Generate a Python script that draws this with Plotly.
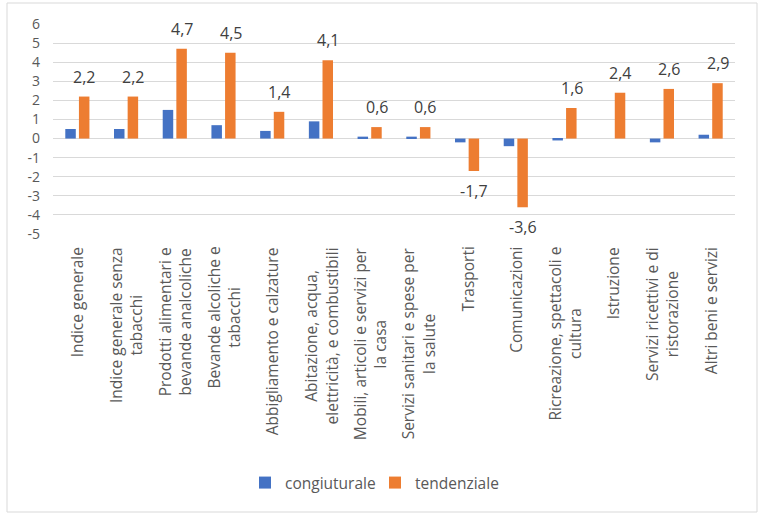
import plotly.graph_objects as go

categories = [
    "Indice generale",
    "Indice generale senza tabacchi",
    "Prodotti alimentari e bevande analcoliche",
    "Bevande alcoliche e tabacchi",
    "Abbigliamento e calzature",
    "Abitazione, acqua, elettricità, e combustibili",
    "Mobili, articoli e servizi per la casa",
    "Servizi sanitari e spese per la salute",
    "Trasporti",
    "Comunicazioni",
    "Ricreazione, spettacoli e cultura",
    "Istruzione",
    "Servizi ricettivi e di ristorazione",
    "Altri beni e servizi",
]
tick_labels = [
    "Indice generale",
    "Indice generale senza<br>tabacchi",
    "Prodotti alimentari e<br>bevande analcoliche",
    "Bevande alcoliche e<br>tabacchi",
    "Abbigliamento e calzature",
    "Abitazione, acqua,<br>elettricità, e combustibili",
    "Mobili, articoli e servizi per<br>la casa",
    "Servizi sanitari e spese per<br>la salute",
    "Trasporti",
    "Comunicazioni",
    "Ricreazione, spettacoli e<br>cultura",
    "Istruzione",
    "Servizi ricettivi e di<br>ristorazione",
    "Altri beni e servizi",
]
congiunturale = [0.5, 0.5, 1.5, 0.7, 0.4, 0.9, 0.1, 0.1, -0.2, -0.4, -0.1, 0.0, -0.2, 0.2]
tendenziale = [2.2, 2.2, 4.7, 4.5, 1.4, 4.1, 0.6, 0.6, -1.7, -3.6, 1.6, 2.4, 2.6, 2.9]
y_ticks = [6, 5, 4, 3, 2, 1, 0, -1, -2, -3, -4, -5]
y_tick_text = [str(v) for v in y_ticks]

FONT = "Open Sans"
BLUE = "#4472C4"
ORANGE = "#ED7D31"
GRID = "#D9D9D9"
TXT = "#595959"

fig = go.Figure()
fig.add_trace(go.Bar(name="congiuturale", x=categories, y=congiunturale,
                     marker=dict(color=BLUE, line=dict(width=0))))
fig.add_trace(go.Bar(name="tendenziale", x=categories, y=tendenziale,
                     marker=dict(color=ORANGE, line=dict(width=0))))

annotations = []
# data labels for tendenziale
for c, v in zip(categories, tendenziale):
    annotations.append(dict(
        x=c, y=v, xref="x", yref="y", showarrow=False,
        text=f"{v:.1f}".replace(".", ","),
        font=dict(family=FONT, size=16, color="#404040"),
        xshift=7, yshift=20 if v >= 0 else -20,
    ))
# category labels
for c, lab in zip(categories, tick_labels):
    annotations.append(dict(
        x=c, y=0, xref="x", yref="paper", showarrow=False,
        text=lab, textangle=-90, align="center",
        xanchor="center", yanchor="top", yshift=-11,
        font=dict(family=FONT, size=15.5, color=TXT),
    ))

# target pixel positions of the plot area
W, H = 765, 525
L, R, T, B = 53, 735, 24, 234
pw, ph = R - L, B - T
def px_to_paper_x(p):
    return (p - L) / pw
def px_to_paper_y(p):
    return (B - p) / ph

fig.update_layout(
    width=W, height=H,
    margin=dict(l=L, r=W - R, t=T, b=H - B),
    paper_bgcolor="white", plot_bgcolor="white",
    barmode="group", bargap=0.44, bargroupgap=0.23,
    font=dict(family=FONT, size=15.5, color=TXT),
    showlegend=True,
    legend=dict(orientation="h", x=px_to_paper_x(375), xanchor="center",
                y=px_to_paper_y(483), yanchor="middle",
                font=dict(family=FONT, size=15.5, color=TXT),
                itemwidth=30, entrywidth=85, entrywidthmode="pixels"),
    xaxis=dict(showticklabels=False, showgrid=False, zeroline=False,
               showline=False, ticks=""),
    yaxis=dict(range=[-5, 6], tickvals=y_ticks, ticktext=y_tick_text,
               showgrid=True, gridcolor=GRID, gridwidth=1,
               zeroline=True, zerolinecolor=GRID, zerolinewidth=1,
               showline=False, ticks="", ticklabelstandoff=12,
               tickfont=dict(family=FONT, size=14, color=TXT)),
    annotations=annotations,
    shapes=[dict(type="rect", xref="paper", yref="paper",
                 x0=px_to_paper_x(7), x1=px_to_paper_x(757),
                 y0=px_to_paper_y(512), y1=px_to_paper_y(3),
                 line=dict(color=GRID, width=1), fillcolor="rgba(0,0,0,0)",
                 layer="below")],
)

fig.write_html("out.html",
               config={"displayModeBar": False},
               post_script="document.body.style.margin='0';")
